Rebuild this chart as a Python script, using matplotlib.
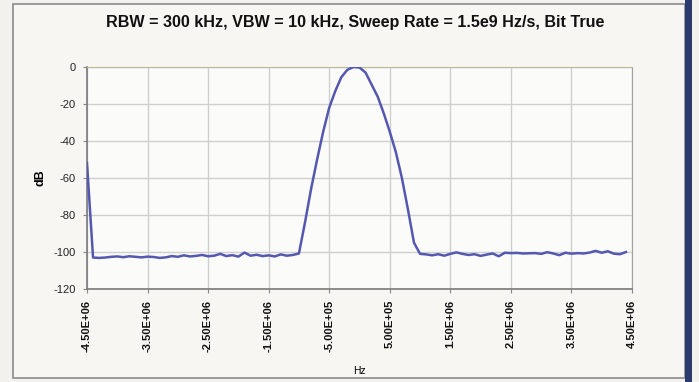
import numpy as np
import matplotlib.pyplot as plt
from matplotlib.patches import Rectangle

plt.rcParams['font.family'] = ['Liberation Sans', 'DejaVu Sans']

# frequency offset grid (Hz), 0.1 MHz steps
freq = np.arange(-4.5e6, 4.4e6 + 1, 1e5)

# measured level (dB)
level = [
    -52.0, -103.0, -103.2, -103.0, -102.6, -102.4, -102.8, -102.3, -102.6, -102.9,
    -102.5, -102.7, -103.2, -102.9, -102.2, -102.6, -101.8, -102.4, -102.1, -101.6,
    -102.3, -102.0, -101.0, -102.2, -101.7, -102.5, -100.3, -102.0, -101.5, -102.2,
    -101.8, -102.4, -101.3, -102.0, -101.6, -100.8, -84.0, -66.0, -50.0, -35.0,
    -22.0, -13.0, -5.5, -1.5, 0.0, -0.3, -3.0, -9.5, -16.0, -25.0,
    -35.0, -46.0, -60.0, -77.0, -95.0, -101.0, -101.3, -101.8, -101.2, -102.0,
    -101.0, -100.2, -101.0, -101.6, -101.2, -102.1, -101.4, -100.8, -102.3, -100.4,
    -100.6, -100.5, -100.8, -100.7, -100.6, -101.0, -100.1, -100.8, -101.7, -100.4,
    -100.9, -100.6, -100.8, -100.3, -99.4, -100.4, -99.6, -100.9, -101.2, -100.0,
]

xticks = np.arange(-4.5e6, 4.5e6 + 1, 1e6)
xtick_labels = ["-4.50E+06", "-3.50E+06", "-2.50E+06", "-1.50E+06", "-5.00E+05",
                "5.00E+05", "1.50E+06", "2.50E+06", "3.50E+06", "4.50E+06"]
yticks = [0, -20, -40, -60, -80, -100, -120]

fig = plt.figure(figsize=(6.99, 3.82), dpi=100, facecolor="#f2f1ed")

# chart frame and page edge
fig.patches.append(Rectangle((13 / 699, 4 / 382), 672 / 699, 374 / 382,
                             transform=fig.transFigure, facecolor="#f7f6f3",
                             edgecolor="#8a8a8a", linewidth=1.2, zorder=0))
fig.patches.append(Rectangle((685 / 699, 0), 7 / 699, 1,
                             transform=fig.transFigure, facecolor="#2c3a6e",
                             edgecolor="none", zorder=1))

ax = fig.add_axes([87 / 699, 93 / 382, 545 / 699, 222 / 382])
ax.set_zorder(3)
ax.set_facecolor("#fbfbf9")
ax.plot(freq, level, color="#5558b0", linewidth=1.8, zorder=3)

ax.set_xlim(-4.5e6, 4.5e6)
ax.set_ylim(-120, 0)
ax.set_xticks(xticks)
ax.set_xticklabels(xtick_labels, rotation=90, fontsize=8, fontweight="bold",
                   color="#111111")
ax.set_yticks(yticks)
ax.set_yticklabels([str(v) for v in yticks], fontsize=8, color="#222222")
ax.tick_params(axis="both", length=3, color="#888888", pad=5)
ax.grid(True, color="#cfcfcf", linewidth=1.0)

for side in ["left", "bottom"]:
    ax.spines[side].set_color("#7a7a7a")
    ax.spines[side].set_linewidth(1.2)
ax.spines["top"].set_color("#b9b995")
ax.spines["right"].set_color("#a0a0a0")

ax.set_xlabel("Hz", fontsize=7.5, labelpad=10)
ax.set_ylabel("dB", fontsize=9, fontweight="bold", labelpad=5)
fig.text(355 / 699, 1 - 23 / 382,
         "RBW = 300 kHz, VBW = 10 kHz, Sweep Rate = 1.5e9 Hz/s, Bit True",
         ha="center", va="center", fontsize=11.6, fontweight="bold", color="#111111",
         zorder=4)

fig.savefig("out.png", dpi=100, facecolor=fig.get_facecolor())
